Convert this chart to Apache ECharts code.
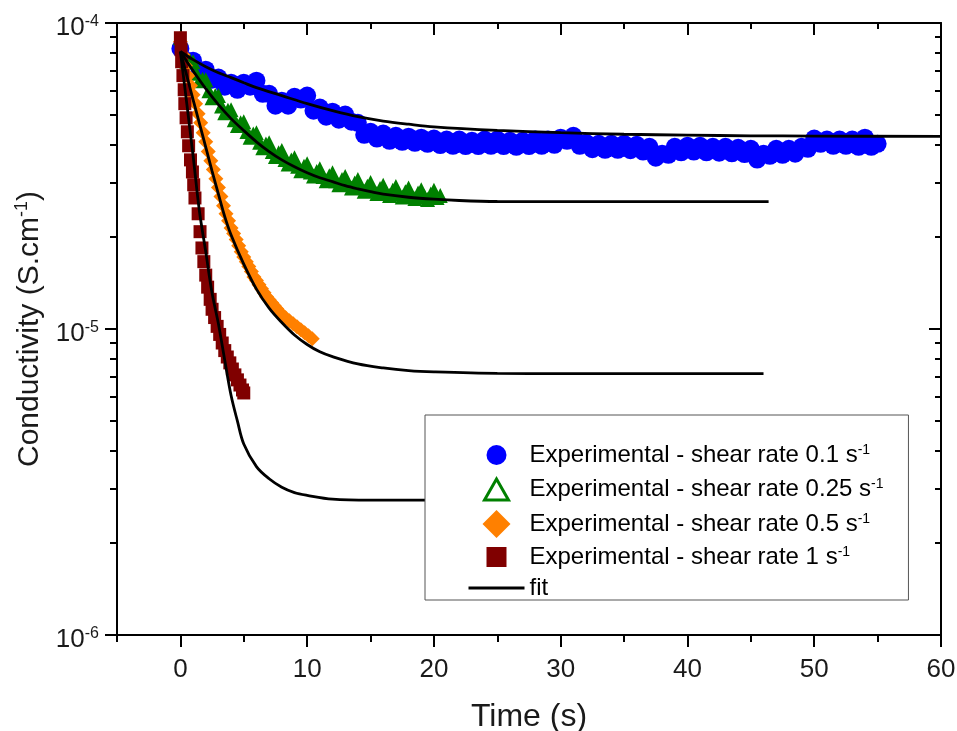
<!DOCTYPE html>
<html><head><meta charset="utf-8">
<script src="https://cdn.jsdelivr.net/npm/echarts@6/dist/echarts.min.js"></script>
<style>html,body{margin:0;padding:0;background:#fff}#c{width:957px;height:731px}</style>
</head><body><div id="c"></div>
<script>
// values in units of 1e-5 S/cm
const UNIT = 1e-5;

const tBlue = [0,0.5,1,1.5,2,2.5,3,3.5,4,4.5,5,5.5,6,6.5,7,7.5,8,8.5,9,9.5,10,10.5,11,11.5,12,12.5,13,13.5,14,14.5,15,15.5,16,16.5,17,17.5,18,18.5,19,19.5,20,20.5,21,21.5,22,22.5,23,23.5,24,24.5,25,25.5,26,26.5,27,27.5,28,28.5,29,29.5,30,30.5,31,31.5,32,32.5,33,33.5,34,34.5,35,35.5,36,36.5,37,37.5,38,38.5,39,39.5,40,40.5,41,41.5,42,42.5,43,43.5,44,44.5,45,45.5,46,46.5,47,47.5,48,48.5,49,49.5,50,50.5,51,51.5,52,52.5,53,53.5,54,54.5,55];
const vBlue = [8.24,7.53,7.53,6.93,7.04,6.53,6.63,6.19,6.38,6.05,
  6.38,6.19,6.48,5.87,5.87,5.37,5.57,5.37,5.74,5.62,
  5.79,5.17,5.29,4.94,5.13,4.83,5.02,4.76,4.72,4.31,
  4.41,4.19,4.35,4.12,4.28,4.09,4.25,4.06,4.22,4.03,
  4.19,3.99,4.16,3.97,4.16,3.96,4.12,3.96,4.16,3.97,
  4.16,3.96,4.12,3.94,4.12,3.96,4.16,3.97,4.16,4.00,
  4.22,4.12,4.28,3.97,4.06,3.87,4.03,3.85,4.03,3.85,
  4.03,3.84,4.00,3.80,3.94,3.63,3.74,3.71,3.94,3.78,
  3.97,3.80,3.97,3.78,3.94,3.77,3.94,3.75,3.91,3.73,
  3.88,3.58,3.74,3.68,3.88,3.71,3.88,3.74,3.94,3.88,
  4.19,4.03,4.16,3.97,4.16,3.97,4.16,3.94,4.22,3.94,
  4.03];

const tGreen = [0,0.25,0.5,0.75,1,1.25,1.5,1.75,2,2.25,2.5,2.75,3,3.25,3.5,3.75,4,4.25,4.5,4.75,5,5.25,5.5,5.75,6,6.25,6.5,6.75,7,7.25,7.5,7.75,8,8.25,8.5,8.75,9,9.25,9.5,9.75,10,10.25,10.5,10.75,11,11.25,11.5,11.75,12,12.25,12.5,12.75,13,13.25,13.5,13.75,14,14.25,14.5,14.75,15,15.25,15.5,15.75,16,16.25,16.5,16.75,17,17.25,17.5,17.75,18,18.25,18.5,18.75,19,19.25,19.5,19.75,20,20.25,20.5];
const vGreen = [8.95,7.97,7.47,7.53,7.47,6.85,6.48,6.55,6.53,6.01,
  5.70,5.79,5.79,5.35,5.09,5.19,5.21,4.83,4.62,4.72,
  4.76,4.42,4.23,4.34,4.38,4.08,3.91,4.02,4.06,3.80,
  3.66,3.77,3.83,3.58,3.46,3.57,3.63,3.40,3.29,3.40,
  3.47,3.26,3.16,3.27,3.34,3.15,3.05,3.17,3.24,3.05,
  2.96,3.08,3.15,2.97,2.89,3.00,3.08,2.90,2.82,2.93,
  3.01,2.84,2.77,2.88,2.95,2.79,2.73,2.84,2.92,2.76,
  2.70,2.81,2.89,2.73,2.67,2.78,2.85,2.71,2.65,2.76,
  2.84,2.69,2.73];

const tOrange = [0,0.2,0.4,0.6,0.8,1,1.2,1.4,1.6,1.8,2,2.2,2.4,2.6,2.8,3,3.2,3.4,3.6,3.8,4,4.2,4.4,4.6,4.8,5,5.2,5.4,5.6,5.8,6,6.2,6.4,6.6,6.8,7,7.2,7.4,7.6,7.8,8,8.3,8.6,8.9,9.2,9.5,9.8,10.1,10.4];
const vOrange = [8.69,7.88,7.25,6.73,6.24,5.83,5.45,5.05,4.72,4.38,
  4.09,3.80,3.55,3.32,3.10,2.90,2.71,2.53,2.38,2.26,
  2.14,2.05,1.96,1.87,1.79,1.72,1.66,1.60,1.54,1.48,
  1.44,1.395,1.354,1.314,1.275,1.247,1.219,1.192,1.165,1.139,
  1.114,1.089,1.064,1.040,1.017,0.994,0.972,0.950,0.930];

const tRed = [0,0.05,0.1,0.2,0.3,0.35,0.45,0.55,0.65,0.8,0.95,1.05,1.15,1.4,1.55,1.7,1.85,2.0,2.15,2.35,2.5,2.7,2.9,3.1,3.3,3.5,3.7,3.9,4.1,4.3,4.5,4.7,4.9,5.0];
const vRed = [8.95,8.18,7.47,6.73,6.05,5.45,4.90,4.41,3.97,3.57,3.26,2.96,2.68,2.38,2.08,1.84,1.66,1.50,1.37,1.25,1.16,1.09,1.02,0.96,0.90,0.85,0.81,0.775,0.74,0.708,0.682,0.656,0.632,0.618];

const tFitBlue = [0,1,2,3,4,5,6,8,10,12,14,16,18,20,25,30,35,40,45,50,60];
const vFitBlue = [8.07,7.59,7.20,6.88,6.63,6.38,6.15,5.79,5.45,5.17,4.94,4.78,4.67,4.58,4.46,4.38,4.33,4.30,4.28,4.27,4.26];
const tFitGreen = [0,1,2,3,4,5,6,7,8,9,10,11,12,13,14,15,16,18,20,22,25,30,46.4];
const vFitGreen = [8.07,6.98,6.10,5.41,4.87,4.45,4.09,3.80,3.57,3.39,3.24,3.12,3.03,2.94,2.87,2.81,2.757,2.695,2.656,2.630,2.610,2.606,2.606];
const tFitOrange = [0,0.5,1,1.5,2,2.5,3,3.5,4,5,6,7,8,9,10,11,12,14,16,18,20,25,30,46];
const vFitOrange = [8.07,6.74,5.62,4.70,3.93,3.28,2.76,2.33,2.03,1.63,1.35,1.17,1.05,0.956,0.890,0.842,0.812,0.769,0.746,0.731,0.724,0.716,0.715,0.715];
const tFitRed = [0,0.5,1,1.5,2,2.5,3,3.5,4,4.5,5,6,7,8,9,10,12,15,20,30,46];
const vFitRed = [8.07,5.47,3.69,2.43,1.79,1.31,1.04,0.79,0.606,0.50,0.421,0.355,0.324,0.304,0.292,0.286,0.278,0.276,0.276,0.276,0.276];

const xMajor = [0,10,20,30,40,50,60];
const xMinor = [-5,5,15,25,35,45,55];
const yDecades = [1e-6,1e-5,1e-4];
const yMinor = [2e-6,3e-6,4e-6,5e-6,6e-6,7e-6,8e-6,9e-6,2e-5,3e-5,4e-5,5e-5,6e-5,7e-5,8e-5,9e-5];

const names = ['Experimental - shear rate 0.1 s-1','Experimental - shear rate 0.25 s-1','Experimental - shear rate 0.5 s-1','Experimental - shear rate 1 s-1','fit'];

const FONT = '"Liberation Sans", Arial, sans-serif';
const TXT = '#1a1a1a';
const pair = (t, v) => t.map((x, i) => [x, v[i] * UNIT]);

// legend icon shapes in a 56x28 box (corner anchors keep the box size)
const BOX = 'M0,0 L0,0 M56,28 L56,28 ';
const iconCircle = 'path://' + BOX + 'M18,14 A10,10 0 1 1 38,14 A10,10 0 1 1 18,14 Z';
const iconTriangle = 'path://' + BOX + 'M28,3.5 L40,24.5 L16,24.5 Z';
const iconDiamond = 'path://' + BOX + 'M28,0 L42,14 L28,28 L14,14 Z';
const iconSquare = 'path://' + BOX + 'M18,4 L38,4 L38,24 L18,24 Z';

const chart = echarts.init(document.getElementById('c'), null, {renderer: 'canvas'});
const axLine = {show: true, onZero: false, lineStyle: {color: '#000', width: 2}};
const noLine = {show: false, onZero: false};
const tickStyle = {color: '#000', width: 2};
const xBase = {type: 'value', min: -5, max: 60, splitLine: {show: false}};
const yBase = {type: 'log', logBase: 10, min: 1e-6, max: 1e-4, splitLine: {show: false}};

const fitLine = (t, v) => ({
  name: 'fit', type: 'line', data: pair(t, v), symbol: 'none', smooth: 0.35,
  lineStyle: {color: '#000', width: 2.8}, itemStyle: {color: '#000'}, z: 3
});

chart.setOption({
  animation: false,
  backgroundColor: '#fff',
  grid: {left: 117, right: 16, top: 23, bottom: 96, containLabel: false, outerBoundsMode: 'none'},
  xAxis: [
    Object.assign({}, xBase, {position: 'bottom', axisLine: axLine,
      axisTick: {show: true, customValues: xMajor, length: 12, inside: false, lineStyle: tickStyle},
      axisLabel: {customValues: xMajor, margin: 22, fontSize: 26, color: TXT, fontFamily: FONT},
      name: 'Time (s)', nameLocation: 'middle', nameGap: 66,
      nameTextStyle: {fontSize: 32, color: TXT, fontFamily: FONT}}),
    Object.assign({}, xBase, {position: 'bottom', axisLine: noLine,
      axisTick: {show: true, customValues: xMinor, length: 7, inside: false, lineStyle: tickStyle},
      axisLabel: {show: false}}),
    Object.assign({}, xBase, {position: 'top', axisLine: axLine,
      axisTick: {show: true, customValues: xMajor, length: 12, inside: true, lineStyle: tickStyle},
      axisLabel: {show: false}}),
    Object.assign({}, xBase, {position: 'top', axisLine: noLine,
      axisTick: {show: true, customValues: xMinor, length: 6, inside: true, lineStyle: tickStyle},
      axisLabel: {show: false}})
  ],
  yAxis: [
    Object.assign({}, yBase, {position: 'left', axisLine: axLine,
      axisTick: {show: true, customValues: yDecades, length: 12, inside: false, lineStyle: tickStyle},
      axisLabel: {customValues: yDecades, margin: 18, color: TXT, fontFamily: FONT, padding: [10, 0, 0, 0],
        formatter: v => '{b|10}{s|' + Math.round(Math.log10(v)) + '}',
        rich: {b: {fontSize: 26, color: TXT, fontFamily: FONT, lineHeight: 28},
               s: {fontSize: 16, color: TXT, fontFamily: FONT, verticalAlign: 'top', lineHeight: 16}}},
      name: '{a|Conductivity (S.cm}{s|-1}{a|)}', nameLocation: 'middle', nameGap: 54,
      nameTextStyle: {color: TXT, fontFamily: FONT, fontSize: 30,
        rich: {a: {fontSize: 30, color: TXT, fontFamily: FONT, lineHeight: 34},
               s: {fontSize: 18, color: TXT, fontFamily: FONT, verticalAlign: 'top', lineHeight: 18}}}}),
    Object.assign({}, yBase, {position: 'left', axisLine: noLine,
      axisTick: {show: true, customValues: yMinor, length: 7, inside: false, lineStyle: tickStyle},
      axisLabel: {show: false}}),
    Object.assign({}, yBase, {position: 'right', axisLine: axLine,
      axisTick: {show: true, customValues: yDecades, length: 12, inside: true, lineStyle: tickStyle},
      axisLabel: {show: false}}),
    Object.assign({}, yBase, {position: 'right', axisLine: noLine,
      axisTick: {show: true, customValues: yMinor, length: 6, inside: true, lineStyle: tickStyle},
      axisLabel: {show: false}})
  ],
  legend: {
    orient: 'vertical', left: 425, top: 415, z: 10,
    padding: [26, 25, 0, 42],
    itemWidth: 56, itemHeight: 28, itemGap: 5,
    backgroundColor: '#fff', borderColor: '#555', borderWidth: 1,
    selectedMode: false,
    data: [
      {name: names[0], icon: iconCircle},
      {name: names[1], icon: iconTriangle, itemStyle: {color: '#fff', borderColor: '#008000', borderWidth: 3}},
      {name: names[2], icon: iconDiamond},
      {name: names[3], icon: iconSquare},
      {name: names[4], itemStyle: {color: 'rgba(0,0,0,0)', borderWidth: 0, opacity: 0}, lineStyle: {width: 3, color: '#000'}}
    ],
    formatter: n => n.endsWith(' s-1') ? '{n|' + n.slice(0, -2) + '}{s|-1}' : '{n|' + n + '}',
    textStyle: {fontSize: 24, color: '#000', fontFamily: FONT,
      rich: {n: {fontSize: 24, color: '#000', fontFamily: FONT, lineHeight: 24},
             s: {fontSize: 14, color: '#000', fontFamily: FONT, verticalAlign: 'top', lineHeight: 13}}}
  },
  series: [
    {name: names[0], type: 'scatter', data: pair(tBlue, vBlue), symbol: 'circle', symbolSize: 18,
     itemStyle: {color: '#0000ff', opacity: 1}, z: 2},
    {name: names[1], type: 'scatter', data: pair(tGreen, vGreen), symbol: 'triangle', symbolSize: 15,
     itemStyle: {color: '#008000', opacity: 1}, z: 2},
    {name: names[2], type: 'scatter', data: pair(tOrange, vOrange), symbol: 'diamond', symbolSize: 15,
     itemStyle: {color: '#ff8000', opacity: 1}, z: 2},
    {name: names[3], type: 'scatter', data: pair(tRed, vRed), symbol: 'rect', symbolSize: 13,
     itemStyle: {color: '#800000', opacity: 1}, z: 2},
    fitLine(tFitBlue, vFitBlue),
    fitLine(tFitGreen, vFitGreen),
    fitLine(tFitOrange, vFitOrange),
    fitLine(tFitRed, vFitRed)
  ]
});
</script></body></html>
